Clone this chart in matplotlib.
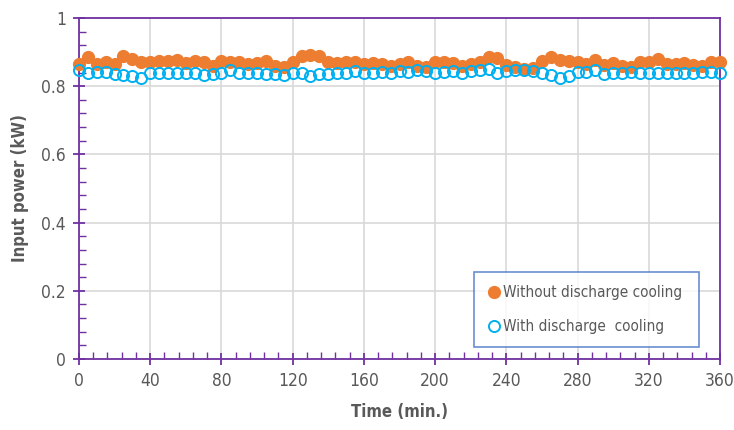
import matplotlib
matplotlib.use("Agg")
import matplotlib.pyplot as plt
from matplotlib.ticker import MultipleLocator

# time axis, one reading every 5 minutes
time_min = list(range(0, 365, 5))

without_cooling = [0.865, 0.885, 0.865, 0.870, 0.865, 0.890, 0.880, 0.870, 0.870, 0.875,
                   0.875, 0.878, 0.868, 0.875, 0.870, 0.860, 0.875, 0.870, 0.872, 0.865,
                   0.868, 0.875, 0.860, 0.855, 0.870, 0.890, 0.892, 0.890, 0.870, 0.868,
                   0.872, 0.872, 0.865, 0.868, 0.865, 0.860, 0.865, 0.872, 0.860, 0.855,
                   0.870, 0.870, 0.868, 0.858, 0.865, 0.870, 0.885, 0.882, 0.862, 0.855,
                   0.850, 0.852, 0.875, 0.885, 0.878, 0.875, 0.870, 0.865, 0.878, 0.862,
                   0.868, 0.860, 0.855, 0.872, 0.870, 0.880, 0.865, 0.865, 0.868, 0.862,
                   0.858, 0.872, 0.870]

with_cooling = [0.848, 0.838, 0.842, 0.842, 0.835, 0.832, 0.830, 0.825, 0.840, 0.840,
                0.840, 0.838, 0.840, 0.838, 0.832, 0.835, 0.840, 0.848, 0.840, 0.838,
                0.840, 0.835, 0.835, 0.832, 0.840, 0.838, 0.830, 0.835, 0.835, 0.840,
                0.840, 0.845, 0.838, 0.838, 0.842, 0.840, 0.845, 0.842, 0.848, 0.845,
                0.840, 0.842, 0.845, 0.840, 0.845, 0.848, 0.850, 0.838, 0.845, 0.848,
                0.848, 0.845, 0.840, 0.832, 0.825, 0.830, 0.842, 0.842, 0.848, 0.835,
                0.838, 0.840, 0.842, 0.840, 0.838, 0.840, 0.838, 0.840, 0.838, 0.840,
                0.842, 0.842, 0.840]

plt.rcParams['font.family'] = ['DejaVu Sans']
plt.rcParams['font.stretch'] = 'condensed'

purple = '#7030A0'
grey_txt = '#595959'

fig = plt.figure(figsize=(7.34, 4.30), dpi=100)
ax = fig.add_axes([0.1076, 0.1651, 0.8734, 0.7930])

ax.plot(time_min, without_cooling, 'o', color='#ED7D31', markersize=8.5,
        label='Without discharge cooling', zorder=3, clip_on=False)
ax.plot(time_min, with_cooling, 'o', markerfacecolor='none', markeredgecolor='#00B0F0',
        markeredgewidth=1.4, markersize=8.0, label='With discharge  cooling', zorder=4,
        clip_on=False)

ax.set_xlim(0, 360)
ax.set_ylim(0, 1)
ax.xaxis.set_major_locator(MultipleLocator(40))
ax.xaxis.set_minor_locator(MultipleLocator(8))
ax.yaxis.set_minor_locator(MultipleLocator(0.04))
ax.set_yticks([0, 0.2, 0.4, 0.6, 0.8, 1.0])
ax.set_yticklabels(['0', '0.2', '0.4', '0.6', '0.8', '1'])

ax.grid(True, which='major', color='#D9D9D9', linewidth=1.2, zorder=0)
ax.set_axisbelow(True)

for s in ax.spines.values():
    s.set_color(purple)
    s.set_linewidth(1.3)

ax.tick_params(which='major', direction='inout', length=9, width=1.3, color=purple,
               labelsize=12.5, labelcolor=grey_txt, pad=5)
ax.tick_params(which='minor', direction='in', length=5, width=1.0, color=purple)

ax.set_xlabel('Time (min.)', fontsize=12, fontweight='bold', color=grey_txt, labelpad=9)
ax.set_ylabel('Input power (kW)', fontsize=12, fontweight='bold', color=grey_txt, labelpad=9)

leg = ax.legend(loc='lower left', bbox_to_anchor=(0.616, 0.035, 0.351, 0.214), mode='expand',
                borderaxespad=0, fontsize=11, frameon=True, fancybox=False,
                handletextpad=0.15, handlelength=0.9, labelspacing=1.25, borderpad=0.85,
                labelcolor=grey_txt)
leg.get_frame().set_edgecolor('#4472C4')
leg.get_frame().set_linewidth(1.2)

fig.savefig('out.png', dpi=100)
